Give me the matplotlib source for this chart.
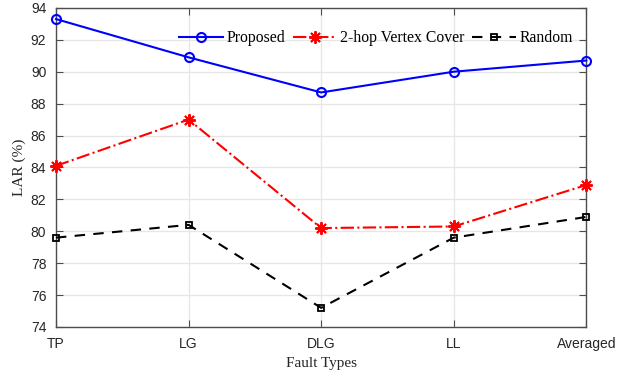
import matplotlib.pyplot as plt

fault_types = ["TP", "LG", "DLG", "LL", "Averaged"]
proposed = [93.3, 90.9, 88.7, 90.0, 90.7]
vertex_cover = [84.1, 87.0, 80.2, 80.3, 82.9]
random_sel = [79.6, 80.4, 75.2, 79.6, 80.9]

fig = plt.figure(figsize=(6.39, 3.75), dpi=100)
ax = fig.add_axes([0.0876, 0.128, 0.83, 0.851])

x = range(len(fault_types))
ax.plot(x, proposed, color="blue", marker="o", markersize=6.5, markerfacecolor="none",
        markeredgewidth=1.5, linewidth=1.5, label="Proposed", clip_on=False, zorder=5)
ax.plot(x, vertex_cover, color="red", marker=(8, 2, 0), markersize=9, linestyle="-.",
        markeredgewidth=1.4, linewidth=1.5, label="2-hop Vertex Cover", clip_on=False, zorder=4)
ax.plot(x, random_sel, color="black", marker="s", markersize=5, markerfacecolor="none",
        markeredgewidth=1.3, linestyle="--", dashes=(5, 4), linewidth=1.5, label="Random",
        clip_on=False, zorder=3)

ax.set_xlim(0, 4)
ax.set_ylim(74, 94)
ax.set_xticks(list(x))
ax.set_xticklabels(fault_types)
ax.set_yticks(range(74, 95, 2))
ax.grid(True, color="#e6e6e6", linewidth=0.9)
ax.set_axisbelow(True)

for sp in ax.spines.values():
    sp.set_color("#4d4d4d")
    sp.set_linewidth(1.0)
ax.tick_params(direction="in", length=5, top=True, right=True, colors="#4d4d4d",
               labelcolor="#262626", labelsize=10)
ax.tick_params(axis="x", pad=7.5)
ax.tick_params(axis="y", pad=7)
for lbl in ax.get_xticklabels() + ax.get_yticklabels():
    lbl.set_family("Liberation Sans")

ax.set_xlabel("Fault Types", family="Liberation Serif", fontsize=11, color="#262626", labelpad=4)
ax.set_ylabel("LAR (%)", family="Liberation Serif", fontsize=11, color="#262626", labelpad=3)

ax.legend(loc="upper right", bbox_to_anchor=(0.995, 0.965), ncol=3, frameon=False,
          prop={"family": "Liberation Serif", "size": 11.3}, handlelength=2.8,
          handletextpad=0.2, columnspacing=0.5, borderaxespad=0.3)

fig.savefig("out.png", dpi=100)
